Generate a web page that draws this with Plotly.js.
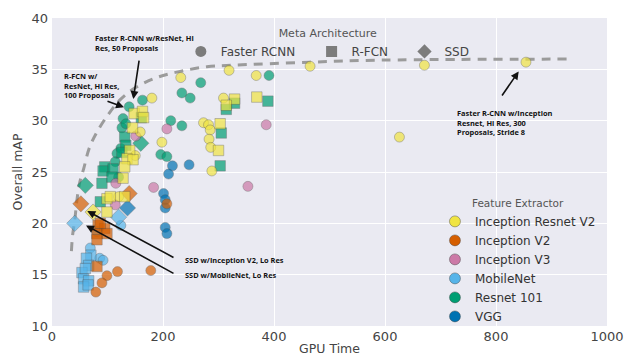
<!DOCTYPE html>
<html>
<head>
<meta charset="utf-8">
<script src="https://cdn.plot.ly/plotly-3.0.1.min.js"></script>
<style>
  html, body { margin: 0; padding: 0; background: #ffffff; }
  #chart { width: 636px; height: 356px; }
</style>
</head>
<body>
<div id="chart"></div>
<script>
// Speed / accuracy trade-off: GPU time vs overall mAP, per feature extractor.
// Meta codes: F = Faster RCNN, R = R-FCN, S = SSD.

const irv2Gpu  = [232, 319, 368, 465, 671, 854, 626, 180, 309, 273, 282, 285, 283, 286, 288, 198, 159, 150, 120,
                  329, 314, 369, 303, 300, 148, 163, 165, 145, 140, 135, 146, 131, 128, 99, 105, 99, 131,
                  74];
const irv2Map  = [34.2, 34.9, 34.4, 35.3, 35.4, 35.7, 28.4, 32.2, 32.2, 29.8, 29.6, 29.1, 28.2, 27.4, 25.1, 27.9, 28.9, 26.6, 22.6,
                  32.1, 31.5, 32.3, 29.7, 27.1, 30.7, 30.9, 30.3, 29.3, 27.1, 26.3, 26.2, 25.5, 24.4, 22.4, 22.6, 21.1, 22.6,
                  21.1];
const irv2Meta = ['F','F','F','F','F','F','F','F','F','F','F','F','F','F','F','F','F','F','F',
                  'R','R','R','R','R','R','R','R','R','R','R','R','R','R','R','R','R','R',
                  'S'];

const incv2Gpu  = [99, 118, 90, 79, 178, 207, 83, 95, 81, 99, 81, 81, 87, 52, 139];
const incv2Map  = [14.9, 15.3, 14.2, 13.3, 15.4, 21.9, 19.8, 19.5, 19.0, 19.0, 18.4, 15.8, 20.0, 21.9, 22.9];
const incv2Meta = ['F','F','F','F','F','F','R','R','R','R','R','R','R','S','S'];

const incv3Gpu  = [207, 386, 183, 353, 151, 115, 114];
const incv3Map  = [29.2, 29.6, 23.5, 23.6, 28.5, 23.9, 21.8];
const incv3Meta = ['F','F','F','F','F','F','F'];

const mobileGpu  = [81, 86, 92, 124, 69, 70, 62, 66, 54, 57, 66, 57, 65, 60, 41, 120];
const mobileMap  = [19.2, 16.6, 16.4, 19.8, 17.6, 16.9, 16.6, 15.9, 15.2, 14.6, 14.4, 13.8, 14.0, 15.6, 20.0, 20.6];
const mobileMeta = ['F','F','F','F','F','R','R','R','R','R','R','R','R','R','S','S'];

const res101Gpu  = [391, 268, 234, 249, 214, 234, 196, 207, 163, 139, 128, 126, 124, 117, 114, 133, 120,
                    329, 314, 389, 305, 303, 131, 133, 95, 92, 90, 87, 110, 161, 126, 108,
                    60, 160];
const res101Map  = [34.4, 33.7, 32.7, 32.2, 30.0, 29.5, 26.7, 26.5, 32.0, 31.35, 30.2, 29.3, 27.3, 26.8, 26.0, 29.7, 24.5,
                    31.7, 31.1, 31.9, 28.8, 25.6, 28.4, 27.6, 25.5, 25.1, 23.9, 22.1, 25.3, 30.3, 26.9, 24.5,
                    23.7, 27.8];
const res101Meta = ['F','F','F','F','F','F','F','F','F','F','F','F','F','F','F','F','F',
                    'R','R','R','R','R','R','R','R','R','R','R','R','R','R','R',
                    'S','S'];

const vggGpu  = [217, 247, 210, 201, 204, 204, 204, 207, 136];
const vggMap  = [25.6, 25.7, 24.8, 22.9, 22.3, 21.5, 19.6, 19.0, 21.5];
const vggMeta = ['F','F','F','F','F','F','F','F','S'];

// Upper envelope of the best mAP reachable at a given GPU time
const frontierGpu = [35, 37, 41, 45, 50, 57, 67, 80, 100, 122, 150, 189, 231, 279, 327, 465, 597, 940];
const frontierMap = [17.3, 18.8, 20.3, 22.3, 24.0, 25.3, 27.3, 28.8, 30.5, 32.0, 33.2, 34.2, 34.8, 35.25, 35.4, 35.7, 35.9, 36.0];

const extractorNames = ['Inception Resnet V2', 'Inception V2', 'Inception V3', 'MobileNet', 'Resnet 101', 'VGG'];
const extractorColors = ['#f0e442', '#d55e00', '#cc79a7', '#56b4e9', '#009e73', '#0072b2'];
const metaNames = ['Faster RCNN', 'R-FCN', 'SSD'];
const metaCodes = ['F', 'R', 'S'];
const metaSymbols = ['circle', 'square', 'diamond'];
// extra room after each meta-architecture label in the horizontal legend
const metaPad = [3, 3, 0];

const symbolOf = code => metaSymbols[metaCodes.indexOf(code)];
const sizeOf = code => (code === 'F' ? 10 : code === 'R' ? 10.5 : 12.5);

const series = [
  { gpu: irv2Gpu,   map: irv2Map,   meta: irv2Meta,   k: 0 },
  { gpu: incv2Gpu,  map: incv2Map,  meta: incv2Meta,  k: 1 },
  { gpu: incv3Gpu,  map: incv3Map,  meta: incv3Meta,  k: 2 },
  { gpu: mobileGpu, map: mobileMap, meta: mobileMeta, k: 3 },
  { gpu: res101Gpu, map: res101Map, meta: res101Meta, k: 4 },
  { gpu: vggGpu,    map: vggMap,    meta: vggMeta,    k: 5 }
];
// paint order: darker families underneath, yellow on top
const paintOrder = [5, 4, 3, 2, 1, 0];

const traces = [];

traces.push({
  x: frontierGpu, y: frontierMap, type: 'scatter', mode: 'lines',
  line: { color: '#9b9b9b', width: 3, dash: '9px,7px', shape: 'spline', smoothing: 1 },
  hoverinfo: 'skip', showlegend: false
});

paintOrder.forEach(i => {
  const s = series[i];
  traces.push({
    x: s.gpu, y: s.map, type: 'scatter', mode: 'markers',
    name: extractorNames[s.k], showlegend: false,
    marker: {
      color: extractorColors[s.k],
      symbol: s.meta.map(symbolOf),
      size: s.meta.map(sizeOf),
      line: { color: 'rgba(70,70,70,0.55)', width: 0.8 }
    }
  });
});

// legend entries: meta architecture (grey shapes)
metaNames.forEach((n, i) => {
  traces.push({
    x: [null], y: [null], type: 'scatter', mode: 'markers',
    name: n + '\u00a0'.repeat(metaPad[i]),
    legend: 'legend2', showlegend: true,
    marker: { color: '#7c7c7c', symbol: metaSymbols[i], size: 11 }
  });
});

// legend entries: feature extractor (coloured circles)
extractorNames.forEach((n, i) => {
  traces.push({
    x: [null], y: [null], type: 'scatter', mode: 'markers', name: n,
    legend: 'legend', showlegend: true,
    marker: { color: extractorColors[i], symbol: 'circle', size: 11,
              line: { color: 'rgba(70,70,70,0.55)', width: 0.8 } }
  });
});

const noteFont = { family: 'Open Sans, DejaVu Sans, sans-serif', size: 7.4, color: '#111111', weight: 700 };

function arrow(tipX, tipY, tailX, tailY) {
  return {
    x: tipX, y: tipY, ax: tailX, ay: tailY, xref: 'x', yref: 'y', axref: 'x', ayref: 'y',
    text: '', showarrow: true, arrowhead: 2, arrowsize: 1, arrowwidth: 1.6, arrowcolor: '#111111'
  };
}
function note(x, y, text, yanchor) {
  return {
    x: x, y: y, xref: 'x', yref: 'y', text: text, showarrow: false,
    xanchor: 'left', yanchor: yanchor, align: 'left', font: noteFont
  };
}

const annotations = [
  note(74.0, 38.7, '<b>Faster R-CNN w/ResNet, Hi<br>Res, 50 Proposals</b>', 'top'),
  arrow(146.5, 32.1, 157.3, 36.0),
  note(18.0, 35.0, '<b>R-FCN w/<br>ResNet, Hi Res,<br>100 Proposals</b>', 'top'),
  arrow(129.7, 31.3, 97.3, 31.95),
  note(236.0, 16.45, '<b>SSD w/Inception V2, Lo Res</b>', 'middle'),
  arrow(63.6, 21.2, 221.6, 16.6),
  note(236.0, 14.95, '<b>SSD w/MobileNet, Lo Res</b>', 'middle'),
  arrow(61.3, 19.8, 221.6, 15.05),
  note(726.0, 31.45, '<b>Faster R-CNN w/Inception<br>Resnet, Hi Res, 300<br>Proposals, Stride 8</b>', 'top'),
  arrow(840.9, 34.8, 809.0, 32.3)
];

const layout = {
  width: 636, height: 356,
  margin: { l: 52, r: 29, t: 18, b: 30, pad: 0 },
  paper_bgcolor: '#ffffff',
  plot_bgcolor: '#eaeaf2',
  font: { family: 'DejaVu Sans, sans-serif', color: '#444444', size: 13 },
  xaxis: {
    range: [0, 1000], tickvals: [0, 200, 400, 600, 800, 1000],
    showgrid: true, gridcolor: '#ffffff', gridwidth: 1, zeroline: false, showline: false,
    ticks: '', tickfont: { size: 13, color: '#444444' }, ticklabelstandoff: 1,
    title: { text: 'GPU Time', font: { size: 12.5, color: '#444444' }, standoff: 2 },
    automargin: false, fixedrange: true
  },
  yaxis: {
    range: [10, 40], tickvals: [10, 15, 20, 25, 30, 35, 40],
    showgrid: true, gridcolor: '#ffffff', gridwidth: 1, zeroline: false, showline: false,
    ticks: '', tickfont: { size: 13, color: '#444444' }, ticklabelstandoff: 3,
    title: { text: 'Overall mAP', font: { size: 12.5, color: '#444444' }, standoff: 6 },
    automargin: false, fixedrange: true
  },
  legend: {
    x: 0.69, y: -0.017, xanchor: 'left', yanchor: 'bottom',
    bgcolor: 'rgba(0,0,0,0)', borderwidth: 0,
    font: { size: 12, color: '#333333' },
    title: { text: 'Feature Extractor', side: 'top center', font: { size: 10.5, color: '#555555' } },
    traceorder: 'normal', itemclick: false
  },
  legend2: {
    x: 0.497, y: 0.985, xanchor: 'center', yanchor: 'top', orientation: 'h',
    bgcolor: 'rgba(0,0,0,0)', borderwidth: 0,
    font: { size: 12, color: '#444444' },
    title: { text: 'Meta Architecture', side: 'top center', font: { size: 11, color: '#555555' } },
    itemclick: false
  },
  annotations: annotations,
  showlegend: true
};

Plotly.newPlot('chart', traces, layout, { displayModeBar: false, staticPlot: true });
</script>
</body>
</html>
